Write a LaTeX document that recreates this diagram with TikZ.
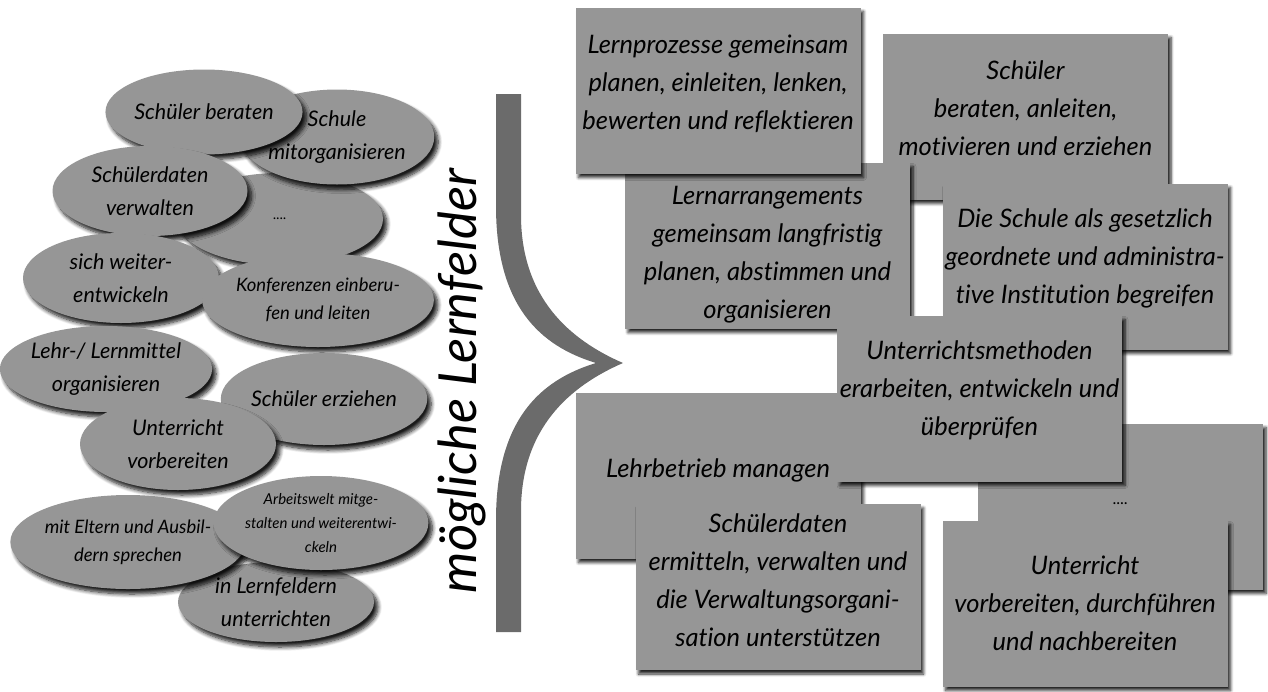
\documentclass[tikz,border=0pt]{standalone}
\usepackage{fontspec}
\setmainfont{Lato}[Ligatures={NoCommon}]
\usetikzlibrary{shapes.geometric,shadows.blur}

\definecolor{fieldgray}{gray}{0.59}
\definecolor{bracegray}{gray}{0.42}

\tikzset{
  bubble/.style={ellipse, fill=fieldgray, inner sep=0pt, align=center,
    font=\itshape\fontsize{21.5}{33}\selectfont,
    blur shadow={shadow xshift=4pt, shadow yshift=-5pt, shadow opacity=90,
                 shadow blur radius=4pt, shadow blur steps=8}},
  smallbubble/.style={bubble, font=\itshape\fontsize{18.5}{28}\selectfont},
  tinybubble/.style={bubble, font=\itshape\fontsize{15}{24}\selectfont},
  field/.style={rectangle, fill=fieldgray, minimum width=285pt,
    minimum height=166pt, inner sep=0pt,
    blur shadow={shadow xshift=3pt, shadow yshift=-4pt, shadow opacity=85,
                 shadow blur radius=3pt, shadow blur steps=6}},
  fieldtext/.style={inner sep=0pt, align=center,
    font=\itshape\fontsize{25.5}{38}\selectfont},
  heading/.style={rotate=90, font=\itshape\fontsize{52.5}{56}\selectfont},
}

\begin{document}
\begin{tikzpicture}[x=1pt, y=-1pt]
\useasboundingbox (0,0) rectangle (1268,691);

% activity bubbles on the left
\node[bubble, minimum width=206pt, minimum height=92pt] (dots) at (280,219) {\fontsize{14}{14}\selectfont ....};
\node[bubble, minimum width=166pt, minimum height=95pt] (mitorg) at (337,137) {Schule\\mitorganisieren};
\node[bubble, minimum width=196pt, minimum height=85pt] (beraten) at (204,112) {Schüler beraten};
\node[bubble, minimum width=195pt, minimum height=90pt] (daten) at (150,191) {Schülerdaten\\verwalten};
\node[bubble, minimum width=196pt, minimum height=90pt] (weiter) at (121,278) {sich weiter-\\entwickeln};
\node[smallbubble, minimum width=200pt, minimum height=94pt] (konf) at (318,300) {Konferenzen einberu-\\fen und leiten};
\node[bubble, minimum width=196pt, minimum height=86pt] (mittel) at (106,369) {Lehr-/ Lernmittel\\organisieren};
\node[bubble, minimum width=192pt, minimum height=92pt] (erziehen) at (324,399) {Schüler erziehen};
\node[bubble, minimum width=196pt, minimum height=92pt] (vorber) at (178,444) {Unterricht\\vorbereiten};
\node[bubble, minimum width=196pt, minimum height=80pt] (lernf) at (276,602) {in Lernfeldern\\unterrichten};
\node[smallbubble, minimum width=194pt, minimum height=94pt] (eltern) at (128,542) {mit Eltern und Ausbil-\\dern sprechen};
\node[tinybubble, minimum width=198pt, minimum height=94pt] (arbeit) at (321,523) {Arbeitswelt mitge-\\stalten und weiterentwi-\\ckeln};

% vertical heading
\node[heading] (title) at (462,381) {mögliche Lernfelder};

% curly brace
\fill[bracegray] (496,94) -- (521,94) -- (521,215)
  .. controls (521,298) and (570,340) .. (623,363)
  .. controls (570,386) and (521,428) .. (521,511)
  -- (521,632) -- (496,632) -- (496,520)
  .. controls (496,420) and (540,380) .. (596,363)
  .. controls (540,346) and (496,306) .. (496,206) -- cycle;

% learning field boxes on the right, each followed by its caption
\node[field] (beratenf) at (1025.5,116.5) {};
\node[fieldtext] (beratenf-t) at (1025.5,108) {Schüler\\beraten, anleiten,\\motivieren und erziehen};
\node[field] (institut) at (1085,266.5) {};
\node[fieldtext] (institut-t) at (1085,258) {Die Schule als gesetzlich\\geordnete und administra-\\tive Institution begreifen};
\node[field] (arrang) at (767.5,245.5) {};
\node[fieldtext] (arrang-t) at (767.5,255) {Lernarrangements\\gemeinsam langfristig\\planen, abstimmen und\\organisieren};
\node[field] (prozesse) at (718,90.5) {};
\node[fieldtext] (prozesse-t) at (718,84) {Lernprozesse gemeinsam\\planen, einleiten, lenken,\\bewerten und reflektieren};
\node[field] (lehrbetr) at (718,475.5) {};
\node[fieldtext] (lehrbetr-t) at (718,470) {Lehrbetrieb managen};
\node[field] (weitere) at (1120.5,506.5) {};
\node[fieldtext] (weitere-t) at (1120.5,504) {\fontsize{16}{16}\selectfont ....};
\node[field] (methoden) at (979.5,398.5) {};
\node[fieldtext] (methoden-t) at (979.5,390) {Unterrichtsmethoden\\erarbeiten, entwickeln und\\überprüfen};
\node[field] (datenf) at (778,587) {};
\node[fieldtext] (datenf-t) at (778,580) {Schülerdaten\\ermitteln, verwalten und\\die Verwaltungsorgani-\\sation unterstützen};
\node[field] (unterr) at (1085,603.5) {};
\node[fieldtext] (unterr-t) at (1085,603) {Unterricht\\vorbereiten, durchführen\\und nachbereiten};
\end{tikzpicture}
\end{document}
